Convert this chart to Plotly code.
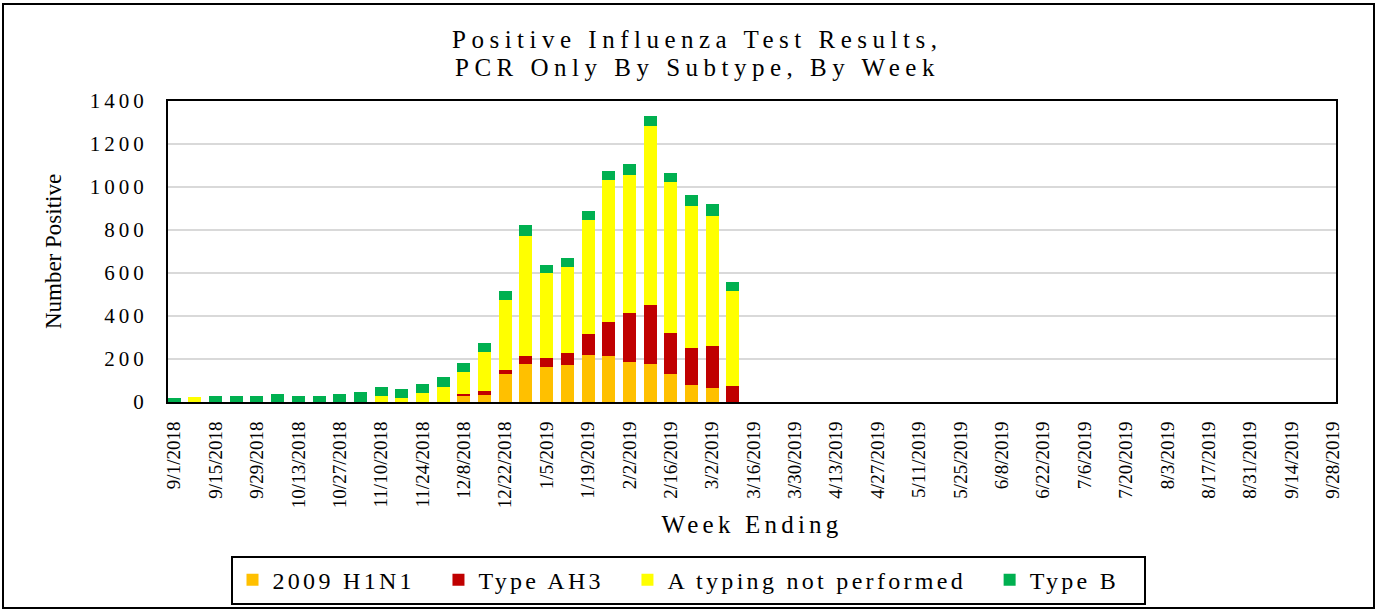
import pandas as pd
import plotly.graph_objects as go

# Week-ending dates (categories)
weeks = [f"{d.month}/{d.day}/{d.year}" for d in pd.date_range("2018-09-01", "2019-09-28", freq="7D")]

# Values for weeks 9/1/2018 .. 3/9/2019 (later weeks have no data)
h1n1 = [0, 0, 0, 0, 0, 0, 0, 0, 0, 0, 0, 0, 0, 0, 27, 34, 130, 179, 164, 172, 219, 212, 185, 179, 130, 81, 66, 0]
ah3 = [0, 0, 0, 0, 0, 0, 0, 0, 0, 0, 0, 0, 0, 0, 10, 17, 19, 33, 40, 55, 97, 161, 227, 273, 193, 170, 193, 74]
a_not_typed = [0, 22, 0, 0, 0, 0, 0, 0, 0, 0, 27, 20, 40, 72, 103, 182, 326, 562, 394, 402, 532, 659, 646, 833, 701, 661, 604, 443]
type_b = [20, 0, 28, 28, 28, 37, 28, 28, 36, 45, 42, 41, 43, 42, 41, 43, 42, 51, 41, 41, 41, 41, 49, 46, 43, 49, 57, 39]

series_names = ["2009 H1N1", "Type AH3", "A typing not performed", "Type B"]
series_values = [h1n1, ah3, a_not_typed, type_b]
series_colors = ["#FFC000", "#C00000", "#FFFF00", "#00B050"]

y_ticks = [0, 200, 400, 600, 800, 1000, 1200, 1400]
x_tick_labels = weeks[::2]

title_lines = ["Positive Influenza Test Results,", "PCR Only By Subtype, By Week"]

FONT = "Times New Roman, Liberation Serif, Tinos, serif"


def ls(text, px):
    return f'<span style="letter-spacing:{px}px">{text}</span>'


fig = go.Figure()
n = len(h1n1)
for name, vals, col in zip(series_names, series_values, series_colors):
    fig.add_trace(go.Bar(
        x=weeks[:n], y=vals, name=ls(name + "\u00a0\u00a0", 3.3),
        marker=dict(color=col, line=dict(width=0)),
    ))

L, R, T, B = 168, 42, 101, 211
W, H = 1378, 616
pw, ph = W - L - R, H - T - B


def py(ypx):  # pixel row -> paper y
    return (H - B - ypx) / ph


def px(xpx):  # pixel column -> paper x
    return (xpx - L) / pw


fig.update_layout(
    width=W, height=H,
    barmode="stack", bargap=0.37,
    paper_bgcolor="white", plot_bgcolor="white",
    margin=dict(l=L, r=R, t=T, b=B),
    font=dict(family=FONT, color="black"),
    legend=dict(
        orientation="h",
        x=px(688), xanchor="center",
        y=py(585), yanchor="middle",
        font=dict(family=FONT, size=24, color="black"),
        bordercolor="black", borderwidth=2,
        itemwidth=30,
        traceorder="normal",
    ),
    showlegend=True,
)

for line, ypix in zip(title_lines, [39, 67]):
    fig.add_annotation(
        text=ls(line, 5.5), xref="paper", yref="paper",
        x=px(697), y=py(ypix), xanchor="center", yanchor="middle",
        showarrow=False, font=dict(family=FONT, size=25, color="black"),
    )

fig.update_xaxes(
    type="category",
    categoryorder="array", categoryarray=weeks,
    range=[-0.3, 56.15],
    tickmode="array", tickvals=x_tick_labels, ticktext=x_tick_labels,
    tickangle=-90,
    tickfont=dict(family=FONT, size=19, color="black"),
    ticks="", ticklabelstandoff=10,
    showline=True, linecolor="black", linewidth=2, mirror=True,
    showgrid=False,
    title=dict(text=ls("Week Ending", 4.2), font=dict(family=FONT, size=25, color="black"), standoff=8),
)

fig.update_yaxes(
    range=[0, 1400],
    tickmode="array", tickvals=y_ticks, ticktext=[ls(str(v), 4) for v in y_ticks],
    tickfont=dict(family=FONT, size=21, color="black"),
    ticks="", ticklabelstandoff=14,
    showline=True, linecolor="black", linewidth=2, mirror=True,
    showgrid=True, gridcolor="#D9D9D9", gridwidth=1.5,
    zeroline=False,
    title=dict(text="Number Positive", font=dict(family=FONT, size=23, color="black"), standoff=22),
)

# outer chart border
fig.add_shape(
    type="rect", xref="paper", yref="paper",
    x0=px(3), x1=px(1374), y0=py(613), y1=py(3),
    line=dict(color="black", width=2), fillcolor="rgba(0,0,0,0)", layer="below",
)

fig.write_html(
    "out.html",
    config={"displayModeBar": False},
    post_script="document.body.style.margin='0';document.body.style.overflow='hidden';",
)
